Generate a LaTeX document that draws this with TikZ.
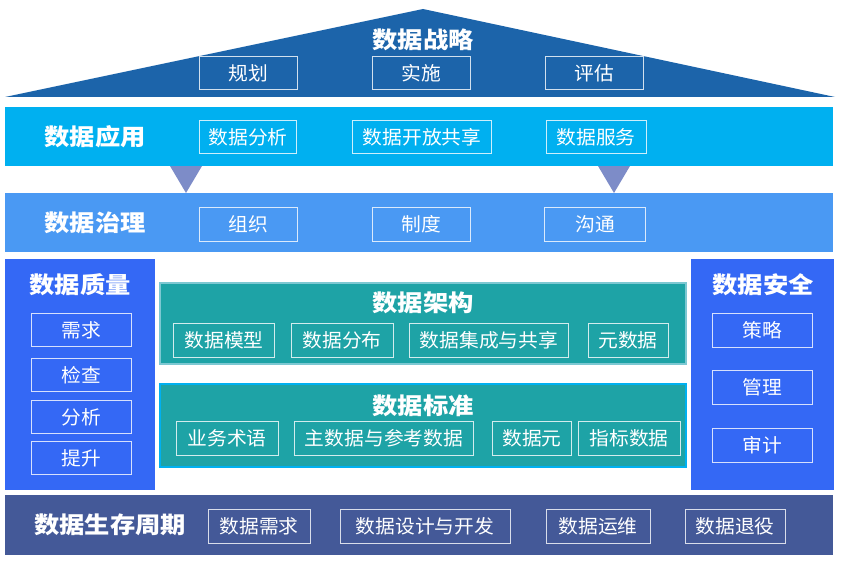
\documentclass[tikz,border=0pt]{standalone}
\usepackage{fontspec}
\setmainfont{Noto Sans CJK SC}
\newfontfamily\headfont{Noto Sans CJK SC}[FakeStretch=1.1]
\newfontfamily\itemfont{Noto Sans CJK SC}[FakeStretch=1.04]

\definecolor{stratblue}{RGB}{28,100,170}
\definecolor{appcyan}{RGB}{0,176,240}
\definecolor{govblue}{RGB}{74,153,243}
\definecolor{pillarblue}{RGB}{52,104,245}
\definecolor{archteal}{RGB}{30,163,166}
\definecolor{archedge}{RGB}{125,200,210}
\definecolor{lifeblue}{RGB}{68,89,152}
\definecolor{notchgray}{RGB}{125,140,200}

\begin{document}
\begin{tikzpicture}[
  x = 1pt, y = -1pt,
  head/.style = {text=white, font=\headfont\fontsize{23}{23}\selectfont\bfseries, inner sep=0},
  item/.style = {draw=white, draw opacity=0.8, line width=0.9pt, text=white,
    font=\itemfont\fontsize{19}{19}\selectfont, inner sep=0, minimum height=33}
]
  \useasboundingbox (0, 0) rectangle (845, 567);

  % roof and horizontal layers
  \fill[stratblue] (5, 97) -- (423, 9) -- (835, 97) -- cycle;
  \fill[appcyan] (5, 107) rectangle (833, 166);
  \fill[notchgray] (170, 166) -- (202, 166) -- (186, 193) -- cycle;
  \fill[notchgray] (598, 166) -- (630, 166) -- (614, 193) -- cycle;
  \fill[govblue] (5, 193) rectangle (833, 252);
  \fill[lifeblue] (5, 495) rectangle (833, 555);

  % side pillars
  \fill[pillarblue] (5, 259) rectangle (155, 490);
  \fill[pillarblue] (691, 259) rectangle (834, 490);

  % middle blocks
  \fill[archteal, draw=archedge, line width=1.5pt] (160, 283) rectangle (686, 364);
  \fill[archteal, draw=appcyan, line width=2pt] (160, 384) rectangle (686, 467);

  % strategy
  \draw node[head] (strategy) at (423, 40) {数据战略};
  \draw node[item, minimum width=98] (plan) at (248, 73) {规划};
  \draw node[item, minimum width=98] (implement) at (421, 73) {实施};
  \draw node[item, minimum width=98] (assess) at (594, 73) {评估};

  % application
  \draw node[head] (application) at (95, 137) {数据应用};
  \draw node[item, minimum width=97] (analysis) at (248, 137) {数据分析};
  \draw node[item, minimum width=139] (opensharing) at (422, 137) {数据开放共享};
  \draw node[item, minimum width=100] (service) at (596, 137) {数据服务};

  % governance
  \draw node[head] (governance) at (95, 223) {数据治理};
  \draw node[item, minimum width=98, minimum height=34] (organization) at (248, 224) {组织};
  \draw node[item, minimum width=98, minimum height=34] (institution) at (421, 224) {制度};
  \draw node[item, minimum width=101, minimum height=34] (communication) at (595, 224) {沟通};

  % quality
  \draw node[head] (quality) at (80, 285) {数据质量};
  \draw node[item, minimum width=100] (requirement) at (81, 330) {需求};
  \draw node[item, minimum width=100] (inspection) at (81, 375) {检查};
  \draw node[item, minimum width=100] (qanalysis) at (81, 417) {分析};
  \draw node[item, minimum width=100] (improvement) at (81, 458) {提升};

  % security
  \draw node[head] (security) at (763, 285) {数据安全};
  \draw node[item, minimum width=100, minimum height=34] (policy) at (762, 330) {策略};
  \draw node[item, minimum width=100, minimum height=34] (management) at (762, 387) {管理};
  \draw node[item, minimum width=100, minimum height=34] (audit) at (762, 445) {审计};

  % architecture
  \draw node[head] (architecture) at (423, 303) {数据架构};
  \draw node[item, minimum width=101, minimum height=34] (model) at (224, 340) {数据模型};
  \draw node[item, minimum width=102, minimum height=34] (distribution) at (342, 340) {数据分布};
  \draw node[item, minimum width=159, minimum height=34] (integration) at (489, 340) {数据集成与共享};
  \draw node[item, minimum width=80, minimum height=34] (metadata) at (628, 340) {元数据};

  % standards
  \draw node[head] (standard) at (423, 406) {数据标准};
  \draw node[item, minimum width=102, minimum height=34] (terms) at (227, 438) {业务术语};
  \draw node[item, minimum width=179, minimum height=34] (masterdata) at (384, 438) {主数据与参考数据};
  \draw node[item, minimum width=79, minimum height=34] (element) at (532, 438) {数据元};
  \draw node[item, minimum width=102, minimum height=34] (indicator) at (629, 438) {指标数据};

  % lifecycle
  \draw node[head] (lifecycle) at (110, 525) {数据生存周期};
  \draw node[item, minimum width=102, minimum height=34] (demand) at (259, 526) {数据需求};
  \draw node[item, minimum width=170, minimum height=34] (design) at (425, 526) {数据设计与开发};
  \draw node[item, minimum width=104, minimum height=34] (operation) at (598, 526) {数据运维};
  \draw node[item, minimum width=100, minimum height=34] (retirement) at (735, 526) {数据退役};

\end{tikzpicture}
\end{document}
